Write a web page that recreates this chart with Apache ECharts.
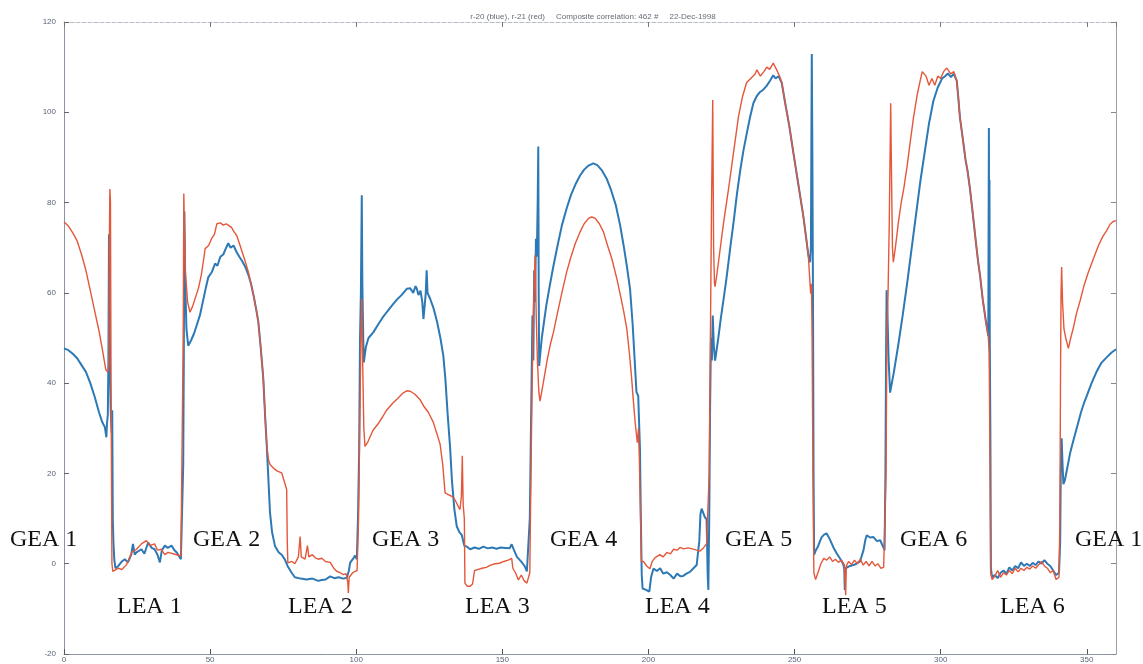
<!DOCTYPE html>
<html>
<head>
<meta charset="utf-8">
<script src="https://cdn.jsdelivr.net/npm/echarts@6/dist/echarts.min.js"></script>
<style>
html,body{margin:0;padding:0;background:#fff;}
#chart{width:1143px;height:664px;}
</style>
</head>
<body>
<div id="chart"></div>
<script>
// ---- axis ticks ----
const xTicks = [0, 50, 100, 150, 200, 250, 300, 350];
const yTicks = [-20, 0, 20, 40, 60, 80, 100, 120];
const titleText = 'r-20 (blue), r-21 (red)     Composite correlation: 462 #     22-Dec-1998';
const regionLabels = ['GEA 1','LEA 1','GEA 2','LEA 2','GEA 3','LEA 3','GEA 4','LEA 4','GEA 5','LEA 5','GEA 6','LEA 6','GEA 1'];

// ---- r-20 (blue) : [azimuth, value] ----
const blueGEA1 = [[0,47.7],[1.5,47.3],[3,46.5],[4.5,45.5],[6,44],[7.5,42.5],[9,40],[10.5,37],[12,33.5],[13,31.5],[14,30.2],[14.5,28],[14.7,31],[15,33],[15.2,45],[15.4,73],[15.6,62],[15.8,40],[16,34],[16.3,29],[16.5,34],[16.7,10],[16.9,5],[17.2,1],[17.6,-1]];
const blueLEA1 = [[18.6,-0.5],[19.8,0.5],[20.8,1],[21.9,0.3],[23,2],[23.6,4.4],[24.2,2],[24.8,2.5],[26.5,3.2],[27.5,2.2],[28.8,4.7],[30,3.5],[31,3.2],[32,2],[32.8,0.3],[33.5,3],[34.5,4],[35.5,3.5],[36.8,4],[37.8,3],[38.6,2.5],[40,1],[40.5,1]];
const blueGEA2 = [[40.8,22],[41,45],[41.2,78],[41.5,62],[41.9,52],[42.5,48.3],[43.5,49.5],[44.5,51],[45.5,53],[46.5,55],[47.5,58],[48.5,61],[49.4,63.5],[50.5,64.5],[51.7,66.5],[52.5,66],[53.5,68],[54.5,68.5],[55.5,70],[56.2,71],[57,70],[58,70.5],[59.1,69],[60,68],[61,67],[62,65.8],[63.1,64],[64,62],[65,59],[66,55.5],[66.5,53.5],[67.3,48],[68.2,41],[68.8,33],[69.4,26],[70,18],[70.5,11.3],[71.2,7],[72.2,3.9],[73.5,2.5],[74.5,2],[75.6,0.9],[76.5,-0.5]];
const blueLEA2 = [[77.9,-2],[79,-3],[81,-3.3],[83,-3.5],[85,-3.3],[87,-3.8],[88.2,-3.6],[89.5,-3.5],[91.1,-2.8],[92.5,-3.2],[94,-3],[95.5,-3.3],[96.8,-3.1],[97.5,-1.5],[97.9,0.2],[98.8,1],[99.6,1.8],[100.2,1]];
const blueGEA3 = [[100.6,10],[101,25],[101.3,50],[101.6,60],[101.9,81.6],[102.1,62],[102.4,50],[102.6,44.6],[103.3,48],[104.2,50],[105.9,51.3],[107.5,53],[109,54.5],[110.4,55.7],[112,57],[113.9,58.5],[115.5,59.5],[117.3,60.9],[118.5,61],[119.5,60],[120.3,61.5],[120.7,61],[121.3,59.5],[122,60.5],[122.6,58],[123,54.2],[123.4,57],[123.8,60],[124.1,65],[124.4,60],[125.3,58.7],[126.5,56.5],[127.7,53.5],[128.8,50],[129.8,46.1],[130.5,41],[131.3,33],[132.1,26],[132.8,18],[133.6,12],[134.4,8.3],[135.3,7],[136.1,6.4],[136.5,6],[137,4]];
const blueLEA3 = [[137.8,3.8],[139,3.2],[140.5,3.6],[142,3.3],[143.5,3.8],[145,3.4],[146.5,3.6],[148,3.3],[149.5,3.6],[151,3.5],[152.5,3.4],[153.2,4.3],[154,3],[155,1.5],[156.7,0.3],[157.6,-0.5],[158.4,-1.7],[159,-1.5]];
const blueGEA4 = [[159.4,10],[159.7,25],[160,40],[160.3,55],[160.6,45],[160.9,65],[161.2,58],[161.5,72],[161.8,68],[162.1,80],[162.3,92.4],[162.45,60],[162.6,43.8],[163.5,50],[165,57],[166.2,61.5],[167.5,66],[168.9,70.5],[170.4,75],[172,78.7],[173.5,81.7],[175,84],[176.6,86],[178,87.3],[179.5,88.2],[181.1,88.7],[182.5,88.3],[184,87.2],[185.7,85.3],[187.2,82.8],[188.8,79.5],[190.3,75],[191.5,70.5],[192.6,66],[193.7,60.9],[194.6,53],[195.4,43.8],[195.9,38],[196.5,37.2],[196.8,37.5],[197.1,25.3],[197.4,10],[197.7,-2.4]];
const blueLEA4 = [[198,-5.5],[199.2,-5.8],[200.3,-6.2],[200.9,-3],[201.7,-1.1],[202.9,-1.6],[204,-1],[205.1,-2.2],[206.3,-1.9],[207.5,-2.5],[208.6,-3.3],[209.8,-2.2],[211,-2.8],[211.9,-2.7],[213,-2.2],[214.2,-1.8],[215.4,-1],[216.5,-0.3],[217.4,5],[217.8,11],[218.2,12.2],[218.8,12],[219.3,10.3],[219.9,9.8],[220.1,3],[220.3,-3],[220.5,-5.8]];
const blueGEA5 = [[220.8,10],[221.1,35],[221.4,50],[221.7,45],[222,55],[222.4,48],[222.8,45],[223.8,49.5],[224.8,54.5],[225.8,59],[226.8,63.7],[228,70],[229.2,76],[230.3,82],[231.4,87.1],[232.5,91.5],[233.7,95.5],[234.8,99],[235.9,102],[237,103.5],[238.2,104.5],[239.3,105],[240.5,105.9],[241.6,107],[242.7,108.2],[243.5,107.5],[244.5,108],[245.6,106.6],[246.8,102],[248.2,97],[249.6,91],[251.3,84],[253,77],[254,72],[254.7,68.4],[255.3,66.8],[255.6,70],[255.8,100],[255.9,112.9],[256.1,90],[256.3,60],[256.5,20],[256.7,2]];
const blueLEA5 = [[257.3,3],[258,3.8],[258.7,5],[259.3,5.9],[260.2,6.5],[261,6.7],[262,5.5],[263.3,3.6],[264.4,2.3],[265.5,1.2],[266.6,0],[267,-1],[267.2,-5.8],[267.4,-1],[267.8,-1.1],[269,-0.5],[270.1,-0.3],[271.2,0],[272.4,0.5],[273.6,3],[274.2,5.2],[274.7,6.3],[275.8,5.8],[277,5.9],[278.2,5],[279.3,5.2],[280.4,3.6],[280.8,3]];
const blueGEA6 = [[281.1,20],[281.3,45],[281.5,60.6],[281.8,55],[282.2,45],[282.7,37.9],[284,42.5],[285.5,48.5],[287,55],[288.5,62],[290,69.5],[291.5,77],[293,84.5],[294.5,91],[296,97.5],[297.5,102.5],[299,105.5],[300.5,107.5],[301.5,108],[302.5,108.6],[303.5,107.8],[304.5,108.5],[305.5,107],[306,103.5],[306.6,98.8],[307.5,94.5],[308.5,89.5],[309.2,87],[310,83.2],[311,77.5],[312,71.5],[312.8,67],[313.5,63.7],[314.4,58.5],[315.4,54],[316.3,50.4],[316.5,96.5],[316.6,60],[316.7,85],[316.8,50],[317,30],[317.2,-1]];
const blueLEA6 = [[317.6,-3],[318.5,-2.5],[319.5,-3.2],[320.5,-2],[321.5,-1.5],[322.5,-2.2],[323.5,-0.8],[324.5,-1.5],[325.5,-0.5],[326.5,-1],[327.5,0.3],[328.5,-0.5],[329.5,0],[330.5,-0.5],[331.5,0.2],[332.5,-0.3],[333.5,0.5],[334.5,0],[335.5,0.8],[336.5,0],[337.5,-0.5],[338.5,-1.5],[339.5,-2.5],[340.5,-2]];
const blueGEA1b = [[340.9,5],[341.1,20],[341.4,27.8],[341.7,22],[342,17.6],[342.5,18.5],[343.2,20.8],[344.3,24.5],[345.5,27.5],[346.6,30.1],[348,33.5],[349,35.5],[350,37.2],[351.5,39.8],[353.4,42.6],[355,44.5],[356.8,45.7],[358.5,46.8],[360,47.5]];

// ---- r-21 (red) : [azimuth, value] ----
const redGEA1 = [[0,75.7],[1.5,74.8],[3,73.3],[4.5,71.5],[6,68.5],[7.5,65],[9,60.5],[10.5,56],[12,51.5],[13.3,46.8],[14.3,43],[15,42.4],[15.3,44],[15.5,70],[15.7,83],[15.9,80],[16.1,40],[16.4,0],[16.7,-1.7]];
const redLEA1 = [[18.6,-1],[19.8,-1.3],[21.4,-0.2],[23.2,2.5],[24.8,3.2],[26.5,4.4],[28.2,5.1],[29.3,4],[31,4.4],[32,3],[33.3,3.2],[34.5,2],[35.6,2.5],[37.9,2.1],[40,1.7],[40.6,1.5]];
const redGEA2 = [[40.8,50],[41,82],[41.2,75],[41.5,65],[42.3,58],[43.1,55.7],[44,57],[45,59],[46,61],[47,64],[47.8,67.5],[48.3,69.8],[49.5,70.5],[50.5,72],[51.5,73],[52.3,75.3],[53.5,75.5],[54.5,75],[55.5,75.3],[56.2,75],[57.3,74.5],[58.2,73.5],[59.1,72.7],[60,71],[61,69],[62,67],[63.1,64.6],[64,62],[65,59],[66,55.5],[66.5,53.5],[67.3,48],[68.2,41],[68.8,33],[69.4,26],[70,23],[70.5,22],[71.1,21.6],[72,21],[73,20.5],[74.5,20.1],[75.5,18],[76.2,16.4],[76.4,5],[76.6,0.2]];
const redLEA2 = [[78,0.5],[79,0],[80.2,1.5],[80.8,6],[81.2,1.5],[82.5,1],[83.3,4],[83.8,1.5],[85,2],[86,1.3],[87,1],[88.2,1.2],[89.5,0.5],[91.1,0.3],[92.3,-1],[93.4,-1.7],[94.5,-2],[95.6,-2.4],[96.5,-2.2],[97.1,-4],[97.3,-6.5],[97.6,-3],[97.9,-2.8],[98.8,-2],[99.6,-1.7],[100.3,-1.5]];
const redGEA3 = [[100.8,10],[101.2,30],[101.6,50],[101.9,58.7],[102.2,45],[102.6,30],[103,26],[104,27],[105.7,29.5],[107.5,31],[109,32.5],[110.4,34],[112.4,35.5],[114,36.5],[116,37.8],[117.3,38.3],[118.5,38.2],[120,37.6],[121.8,36.4],[123,35],[124.7,33.5],[126.4,31.3],[127.5,29],[128.7,26.5],[129.6,22],[130.4,15.7],[131.5,15.3],[132.5,15],[133.5,14.5],[134.3,13.5],[134.9,12.7],[135.5,12],[136,15],[136.3,23.9],[136.6,13],[137,10],[137.2,-4.3]];
const redLEA3 = [[138,-5],[139,-5],[139.8,-4.5],[140.5,-1.5],[141.5,-1.3],[143,-1],[144.5,-0.8],[146,-0.3],[147.5,0],[149,0.1],[150.5,0.5],[152,0.8],[153.2,1.2],[153.6,-1],[154.5,-2],[155.5,-3.6],[156.5,-2.5],[157.5,-3.8],[158.4,-4.3],[159,-4.5]];
const redGEA4 = [[159.4,-2],[159.8,20],[160.2,40],[160.6,55],[161.2,68.3],[161.6,55],[162,45],[162.5,38],[162.9,36],[164,40],[165.3,45],[166.4,48.5],[167.5,51.3],[168.7,55],[170.2,59.5],[172,64.6],[173.5,68],[175,71],[176.6,73.5],[178,75.3],[179.5,76.5],[180.6,76.8],[181.8,76.5],[183.2,75.3],[184.6,73.5],[186,70.5],[187.5,67.5],[189.2,63.1],[190.4,59.5],[191.5,56],[192.6,52],[193.5,46.5],[194.2,41.5],[194.8,36.4],[195.5,31],[196.2,26.8],[196.6,30],[196.9,23],[197.3,10],[197.6,0.5]];
const redLEA4 = [[198.3,0.5],[199.4,-0.5],[200.5,-1.1],[201.3,0.5],[202.2,1.3],[203.9,2],[205,1.5],[206.3,2.5],[207.5,2.2],[208.6,3.2],[209.8,3],[210.8,3.6],[212,3.3],[213.5,3.5],[215,3.3],[216.5,3],[217.7,2.8],[218.8,3.5],[219.9,4.4],[220.3,4]];
const redGEA5 = [[220.8,20],[221.2,50],[221.6,80],[222,102.7],[222.3,70],[222.6,62],[222.8,61.4],[223.4,64],[224.5,69.5],[225.7,75.5],[227.4,83],[229.1,91],[230.8,99],[232.2,103.5],[233.6,106.6],[235,107.5],[236.5,108.5],[237.1,109.4],[238.3,108],[239.5,109],[240.5,110],[241.5,109.5],[242.7,110.9],[243.8,109.5],[245,107.8],[245.6,106.6],[246.8,102],[248.2,97],[249.6,91],[251.3,84],[253,77],[254,72],[254.7,68.4],[255.2,63],[255.5,59.8],[255.8,62],[256,50],[256.3,20],[256.6,-2]];
const redLEA5 = [[257.2,-3.5],[258,-2],[259,0],[260,1.2],[261,0.8],[262,1.5],[263,0.5],[264,1],[265,0.3],[266,0.8],[267,-0.2],[267.5,-7],[267.7,-0.5],[268.5,0.5],[269.5,-0.2],[270.5,0.8],[271.5,0],[272.5,1],[273.5,-0.3],[274.5,0.5],[275.5,-0.5],[276.5,0.5],[277.5,-0.5],[278.5,0],[279.5,-1],[280.5,-0.8],[281,-1]];
const redGEA6 = [[281.3,20],[281.6,50],[282,60],[282.4,75],[282.9,102],[283.2,85],[283.5,70],[283.8,66.8],[284.5,70],[285.5,75.5],[286.5,80],[287.4,83.2],[288.5,88],[289.5,93],[290.7,98.8],[292,104],[293,107],[293.7,109],[295,108],[296,106],[297,107.5],[298,106],[299,108],[300,107.5],[301,109],[302.1,109.8],[303.5,108.5],[304.5,109],[305.5,107],[306,103.5],[306.6,98.8],[307.5,94.5],[308.5,89.5],[309.2,87],[310,83.2],[311,77.5],[312,71.5],[312.8,67],[313.5,63.7],[314.4,58.5],[315.4,54],[316.3,50.4],[316.6,46.5],[316.8,30],[317.1,-2]];
const redLEA6 = [[317.6,-3.5],[318.5,-2.8],[319.5,-1.5],[320.5,-3],[321.5,-2],[322.5,-2.5],[323.5,-1.5],[324.5,-2.2],[325.5,-1],[326.5,-1.8],[327.5,-1],[328.5,-1.5],[329.5,-0.8],[330.5,-1.2],[331.5,-0.5],[332.5,-1],[333.5,-0.3],[334.5,0.5],[335.5,-0.5],[336.5,-1],[337.5,-2],[338.5,-1.5],[339.5,-3.5],[340.5,-3]];
const redGEA1b = [[340.8,10],[341,40],[341.2,60],[341.4,65.7],[341.7,58],[342.2,52],[342.8,50],[343.7,47.7],[344.5,50],[345.5,52.5],[346.5,55.5],[347.7,58.2],[349,61.5],[350.5,64.5],[352.3,67.6],[354,70.5],[355.5,72.5],[356.8,73.8],[358,75.2],[359,75.8],[360,76]];

const blueData = [].concat(blueGEA1, blueLEA1, blueGEA2, blueLEA2, blueGEA3, blueLEA3, blueGEA4, blueLEA4, blueGEA5, blueLEA5, blueGEA6, blueLEA6, blueGEA1b);
const redData = [].concat(redGEA1, redLEA1, redGEA2, redLEA2, redGEA3, redLEA3, redGEA4, redLEA4, redGEA5, redLEA5, redGEA6, redLEA6, redGEA1b);

// label layout (pixel positions of the annotation texts)
const labelPos = [[10,541],[117,608],[193,541],[288,608],[372,541],[465,608],[550,541],[645,608],[725,541],[822,608],[900,541],[1000,608],[1075,541]];

const chart = echarts.init(document.getElementById('chart'), null, {renderer: 'canvas'});
const axisColor = '#8a94a6';
const labelColor = '#5a6478';
const option = {
  animation: false,
  backgroundColor: '#ffffff',
  title: {
    text: titleText,
    left: 588, top: 8, textAlign: 'center',
    textStyle: {fontSize: 8, fontWeight: 'normal', color: '#666a75', fontFamily: 'Liberation Sans, Arial, sans-serif'}
  },
  grid: {left: 64, right: 27, top: 22, bottom: 10, containLabel: false},
  xAxis: [{
    type: 'value', min: 0, max: 360, interval: 50, position: 'bottom',
    axisLine: {show: true, onZero: false, lineStyle: {color: axisColor, width: 1}},
    axisTick: {show: true, inside: true, length: 5, lineStyle: {color: '#555'}},
    axisLabel: {show: true, fontSize: 8, color: labelColor, margin: 2, showMaxLabel: false,
      formatter: v => xTicks.indexOf(v) >= 0 ? String(v) : ''},
    splitLine: {show: false}
  }, {
    type: 'value', min: 0, max: 360, interval: 50, position: 'top',
    axisLine: {show: true, onZero: false, lineStyle: {color: '#b8bcc6', width: 1, type: 'dashed'}},
    axisTick: {show: true, inside: true, length: 5, lineStyle: {color: '#777'}},
    axisLabel: {show: false}, splitLine: {show: false}
  }],
  yAxis: [{
    type: 'value', min: -20, max: 120, interval: 20, position: 'left',
    axisLine: {show: true, onZero: false, lineStyle: {color: axisColor, width: 1}},
    axisTick: {show: true, inside: true, length: 5, lineStyle: {color: '#666'}},
    axisLabel: {show: true, fontSize: 8, color: labelColor, margin: 8,
      formatter: v => yTicks.indexOf(v) >= 0 ? String(v) : ''},
    splitLine: {show: false}
  }, {
    type: 'value', min: -20, max: 120, interval: 20, position: 'right',
    axisLine: {show: true, onZero: false, lineStyle: {color: '#9aa0ab', width: 1}},
    axisTick: {show: true, inside: true, length: 5, lineStyle: {color: '#888'}},
    axisLabel: {show: false}, splitLine: {show: false}
  }],
  series: [{
    name: 'r-20', type: 'line', data: blueData, xAxisIndex: 0, yAxisIndex: 0,
    showSymbol: false, symbol: 'none', smooth: false,
    lineStyle: {color: '#2c79b5', width: 2}, z: 2
  }, {
    name: 'r-21', type: 'line', data: redData, xAxisIndex: 0, yAxisIndex: 0,
    showSymbol: false, symbol: 'none', smooth: false,
    lineStyle: {color: '#e4573a', width: 1.4}, z: 3
  }],
  graphic: regionLabels.map((t, i) => ({
    type: 'text', left: labelPos[i][0], top: labelPos[i][1] - 13, z: 10,
    style: {text: t, fontSize: 24, fill: '#111', fontFamily: 'Liberation Serif, Times New Roman, serif'}
  }))
};
chart.setOption(option);
</script>
</body>
</html>
